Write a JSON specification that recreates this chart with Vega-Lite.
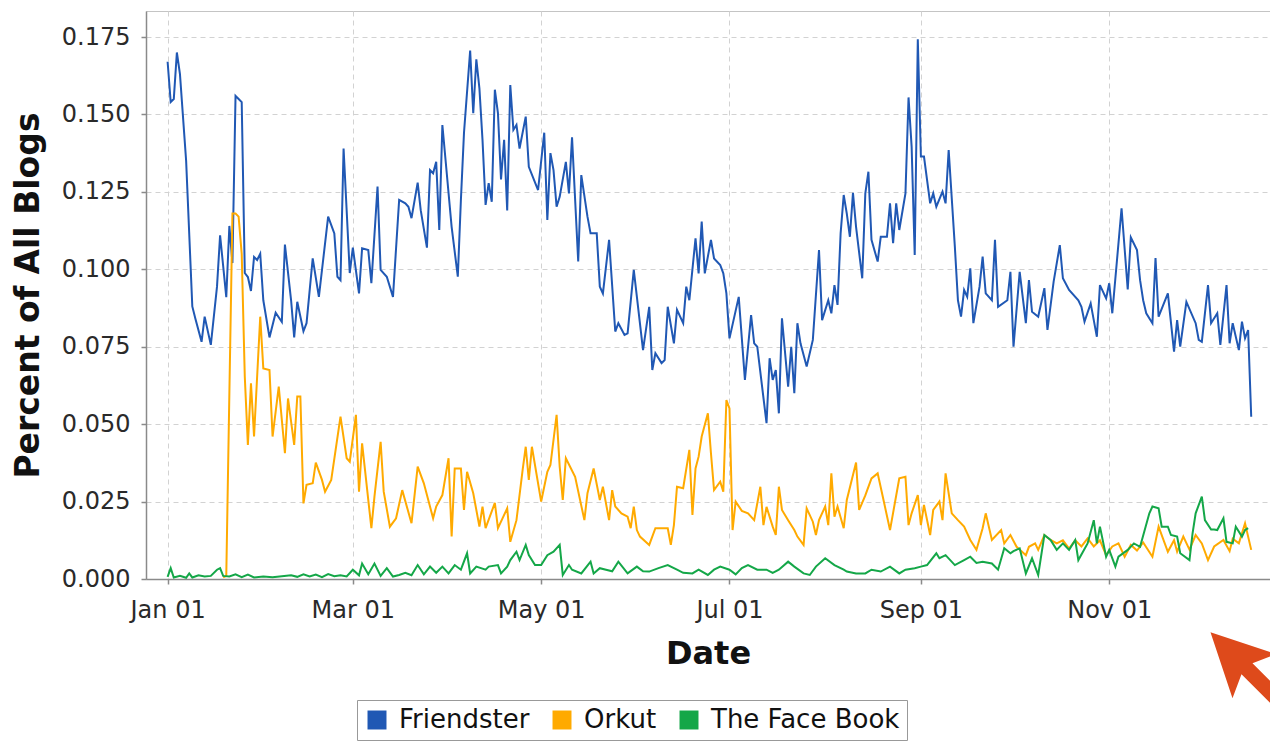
{
"$schema":"https://vega.github.io/schema/vega-lite/v6.json",
"width":1124,"height":568,
"autosize":{"type":"none"},
"padding":{"left":146,"top":11,"right":0,"bottom":164},
"background":"white",
"config":{"view":{"stroke":"#c4c4c4","strokeWidth":1},"font":"DejaVu Sans"},
"layer":[
{
"data":{"values":[
{"s":"Friendster","d":"2004-01-01","v":0.167},{"s":"Friendster","d":"2004-01-02","v":0.154},{"s":"Friendster","d":"2004-01-03","v":0.155},{"s":"Friendster","d":"2004-01-04","v":0.170},{"s":"Friendster","d":"2004-01-05","v":0.163},{"s":"Friendster","d":"2004-01-07","v":0.135},{"s":"Friendster","d":"2004-01-09","v":0.088},{"s":"Friendster","d":"2004-01-10","v":0.084},{"s":"Friendster","d":"2004-01-12","v":0.0766},{"s":"Friendster","d":"2004-01-13","v":0.0847},{"s":"Friendster","d":"2004-01-15","v":0.0756},{"s":"Friendster","d":"2004-01-17","v":0.0944},{"s":"Friendster","d":"2004-01-18","v":0.111},{"s":"Friendster","d":"2004-01-20","v":0.091},{"s":"Friendster","d":"2004-01-21","v":0.114},{"s":"Friendster","d":"2004-01-22","v":0.102},{"s":"Friendster","d":"2004-01-23","v":0.156},{"s":"Friendster","d":"2004-01-24","v":0.155},{"s":"Friendster","d":"2004-01-25","v":0.154},{"s":"Friendster","d":"2004-01-26","v":0.0988},{"s":"Friendster","d":"2004-01-27","v":0.0975},{"s":"Friendster","d":"2004-01-28","v":0.093},{"s":"Friendster","d":"2004-01-29","v":0.104},{"s":"Friendster","d":"2004-01-30","v":0.103},{"s":"Friendster","d":"2004-01-31","v":0.105},{"s":"Friendster","d":"2004-02-01","v":0.090},{"s":"Friendster","d":"2004-02-03","v":0.078},{"s":"Friendster","d":"2004-02-05","v":0.086},{"s":"Friendster","d":"2004-02-07","v":0.083},{"s":"Friendster","d":"2004-02-08","v":0.108},{"s":"Friendster","d":"2004-02-10","v":0.090},{"s":"Friendster","d":"2004-02-11","v":0.078},{"s":"Friendster","d":"2004-02-12","v":0.0895},{"s":"Friendster","d":"2004-02-14","v":0.080},{"s":"Friendster","d":"2004-02-15","v":0.0826},{"s":"Friendster","d":"2004-02-17","v":0.1035},{"s":"Friendster","d":"2004-02-19","v":0.0911},{"s":"Friendster","d":"2004-02-22","v":0.117},{"s":"Friendster","d":"2004-02-24","v":0.1116},{"s":"Friendster","d":"2004-02-25","v":0.0976},{"s":"Friendster","d":"2004-02-26","v":0.0965},{"s":"Friendster","d":"2004-02-27","v":0.139},{"s":"Friendster","d":"2004-02-29","v":0.0988},{"s":"Friendster","d":"2004-03-01","v":0.107},{"s":"Friendster","d":"2004-03-03","v":0.0922},{"s":"Friendster","d":"2004-03-04","v":0.1068},{"s":"Friendster","d":"2004-03-06","v":0.1062},{"s":"Friendster","d":"2004-03-07","v":0.0955},{"s":"Friendster","d":"2004-03-09","v":0.1267},{"s":"Friendster","d":"2004-03-10","v":0.0998},{"s":"Friendster","d":"2004-03-12","v":0.0976},{"s":"Friendster","d":"2004-03-14","v":0.0911},{"s":"Friendster","d":"2004-03-16","v":0.1224},{"s":"Friendster","d":"2004-03-18","v":0.1213},{"s":"Friendster","d":"2004-03-19","v":0.1202},{"s":"Friendster","d":"2004-03-20","v":0.1165},{"s":"Friendster","d":"2004-03-22","v":0.128},{"s":"Friendster","d":"2004-03-23","v":0.119},{"s":"Friendster","d":"2004-03-25","v":0.107},{"s":"Friendster","d":"2004-03-26","v":0.132},{"s":"Friendster","d":"2004-03-27","v":0.131},{"s":"Friendster","d":"2004-03-28","v":0.1347},{"s":"Friendster","d":"2004-03-29","v":0.1127},{"s":"Friendster","d":"2004-03-30","v":0.1466},{"s":"Friendster","d":"2004-04-02","v":0.1137},{"s":"Friendster","d":"2004-04-04","v":0.0976},{"s":"Friendster","d":"2004-04-05","v":0.1224},{"s":"Friendster","d":"2004-04-06","v":0.144},{"s":"Friendster","d":"2004-04-08","v":0.1706},{"s":"Friendster","d":"2004-04-09","v":0.1504},{"s":"Friendster","d":"2004-04-10","v":0.1678},{"s":"Friendster","d":"2004-04-11","v":0.1584},{"s":"Friendster","d":"2004-04-12","v":0.1418},{"s":"Friendster","d":"2004-04-13","v":0.1208},{"s":"Friendster","d":"2004-04-14","v":0.1278},{"s":"Friendster","d":"2004-04-15","v":0.1218},{"s":"Friendster","d":"2004-04-16","v":0.158},{"s":"Friendster","d":"2004-04-17","v":0.1504},{"s":"Friendster","d":"2004-04-18","v":0.129},{"s":"Friendster","d":"2004-04-19","v":0.1418},{"s":"Friendster","d":"2004-04-20","v":0.119},{"s":"Friendster","d":"2004-04-21","v":0.1595},{"s":"Friendster","d":"2004-04-22","v":0.145},{"s":"Friendster","d":"2004-04-23","v":0.1466},{"s":"Friendster","d":"2004-04-24","v":0.139},{"s":"Friendster","d":"2004-04-26","v":0.1493},{"s":"Friendster","d":"2004-04-27","v":0.1331},{"s":"Friendster","d":"2004-04-30","v":0.1256},{"s":"Friendster","d":"2004-05-02","v":0.1441},{"s":"Friendster","d":"2004-05-03","v":0.1159},{"s":"Friendster","d":"2004-05-04","v":0.1375},{"s":"Friendster","d":"2004-05-05","v":0.132},{"s":"Friendster","d":"2004-05-06","v":0.1202},{"s":"Friendster","d":"2004-05-07","v":0.1234},{"s":"Friendster","d":"2004-05-09","v":0.1347},{"s":"Friendster","d":"2004-05-10","v":0.1245},{"s":"Friendster","d":"2004-05-11","v":0.1426},{"s":"Friendster","d":"2004-05-13","v":0.1025},{"s":"Friendster","d":"2004-05-14","v":0.1304},{"s":"Friendster","d":"2004-05-16","v":0.117},{"s":"Friendster","d":"2004-05-17","v":0.1116},{"s":"Friendster","d":"2004-05-19","v":0.1116},{"s":"Friendster","d":"2004-05-20","v":0.0944},{"s":"Friendster","d":"2004-05-21","v":0.0922},{"s":"Friendster","d":"2004-05-23","v":0.1095},{"s":"Friendster","d":"2004-05-25","v":0.0799},{"s":"Friendster","d":"2004-05-26","v":0.0826},{"s":"Friendster","d":"2004-05-28","v":0.0788},{"s":"Friendster","d":"2004-05-29","v":0.0793},{"s":"Friendster","d":"2004-05-31","v":0.0998},{"s":"Friendster","d":"2004-06-03","v":0.0739},{"s":"Friendster","d":"2004-06-05","v":0.0879},{"s":"Friendster","d":"2004-06-06","v":0.0675},{"s":"Friendster","d":"2004-06-07","v":0.0729},{"s":"Friendster","d":"2004-06-09","v":0.0697},{"s":"Friendster","d":"2004-06-10","v":0.0707},{"s":"Friendster","d":"2004-06-11","v":0.0879},{"s":"Friendster","d":"2004-06-13","v":0.0761},{"s":"Friendster","d":"2004-06-14","v":0.0869},{"s":"Friendster","d":"2004-06-16","v":0.0826},{"s":"Friendster","d":"2004-06-17","v":0.0944},{"s":"Friendster","d":"2004-06-18","v":0.090},{"s":"Friendster","d":"2004-06-20","v":0.110},{"s":"Friendster","d":"2004-06-21","v":0.0987},{"s":"Friendster","d":"2004-06-22","v":0.1154},{"s":"Friendster","d":"2004-06-23","v":0.0987},{"s":"Friendster","d":"2004-06-25","v":0.1095},{"s":"Friendster","d":"2004-06-26","v":0.1035},{"s":"Friendster","d":"2004-06-28","v":0.1014},{"s":"Friendster","d":"2004-06-29","v":0.0987},{"s":"Friendster","d":"2004-06-30","v":0.0922},{"s":"Friendster","d":"2004-07-01","v":0.0777},{"s":"Friendster","d":"2004-07-04","v":0.0911},{"s":"Friendster","d":"2004-07-06","v":0.0643},{"s":"Friendster","d":"2004-07-08","v":0.0852},{"s":"Friendster","d":"2004-07-09","v":0.0761},{"s":"Friendster","d":"2004-07-10","v":0.075},{"s":"Friendster","d":"2004-07-13","v":0.0503},{"s":"Friendster","d":"2004-07-14","v":0.0713},{"s":"Friendster","d":"2004-07-15","v":0.0643},{"s":"Friendster","d":"2004-07-16","v":0.0675},{"s":"Friendster","d":"2004-07-17","v":0.0535},{"s":"Friendster","d":"2004-07-18","v":0.0842},{"s":"Friendster","d":"2004-07-20","v":0.0621},{"s":"Friendster","d":"2004-07-21","v":0.075},{"s":"Friendster","d":"2004-07-22","v":0.060},{"s":"Friendster","d":"2004-07-23","v":0.0826},{"s":"Friendster","d":"2004-07-24","v":0.0761},{"s":"Friendster","d":"2004-07-26","v":0.0686},{"s":"Friendster","d":"2004-07-28","v":0.0772},{"s":"Friendster","d":"2004-07-30","v":0.1062},{"s":"Friendster","d":"2004-07-31","v":0.0836},{"s":"Friendster","d":"2004-08-02","v":0.090},{"s":"Friendster","d":"2004-08-03","v":0.0858},{"s":"Friendster","d":"2004-08-04","v":0.0949},{"s":"Friendster","d":"2004-08-05","v":0.0885},{"s":"Friendster","d":"2004-08-06","v":0.1116},{"s":"Friendster","d":"2004-08-07","v":0.124},{"s":"Friendster","d":"2004-08-08","v":0.118},{"s":"Friendster","d":"2004-08-09","v":0.1105},{"s":"Friendster","d":"2004-08-10","v":0.1247},{"s":"Friendster","d":"2004-08-11","v":0.1137},{"s":"Friendster","d":"2004-08-13","v":0.0971},{"s":"Friendster","d":"2004-08-14","v":0.1245},{"s":"Friendster","d":"2004-08-15","v":0.1315},{"s":"Friendster","d":"2004-08-16","v":0.1095},{"s":"Friendster","d":"2004-08-18","v":0.1025},{"s":"Friendster","d":"2004-08-19","v":0.1105},{"s":"Friendster","d":"2004-08-21","v":0.1105},{"s":"Friendster","d":"2004-08-22","v":0.1213},{"s":"Friendster","d":"2004-08-23","v":0.1084},{"s":"Friendster","d":"2004-08-24","v":0.1213},{"s":"Friendster","d":"2004-08-25","v":0.1127},{"s":"Friendster","d":"2004-08-27","v":0.1245},{"s":"Friendster","d":"2004-08-28","v":0.1555},{"s":"Friendster","d":"2004-08-29","v":0.1396},{"s":"Friendster","d":"2004-08-30","v":0.1046},{"s":"Friendster","d":"2004-08-31","v":0.1743},{"s":"Friendster","d":"2004-09-01","v":0.1364},{"s":"Friendster","d":"2004-09-02","v":0.1364},{"s":"Friendster","d":"2004-09-04","v":0.1213},{"s":"Friendster","d":"2004-09-05","v":0.1245},{"s":"Friendster","d":"2004-09-06","v":0.1202},{"s":"Friendster","d":"2004-09-08","v":0.1251},{"s":"Friendster","d":"2004-09-09","v":0.1213},{"s":"Friendster","d":"2004-09-10","v":0.1385},{"s":"Friendster","d":"2004-09-12","v":0.1073},{"s":"Friendster","d":"2004-09-13","v":0.090},{"s":"Friendster","d":"2004-09-14","v":0.0847},{"s":"Friendster","d":"2004-09-15","v":0.0933},{"s":"Friendster","d":"2004-09-16","v":0.0911},{"s":"Friendster","d":"2004-09-17","v":0.1003},{"s":"Friendster","d":"2004-09-18","v":0.0826},{"s":"Friendster","d":"2004-09-20","v":0.0944},{"s":"Friendster","d":"2004-09-21","v":0.1041},{"s":"Friendster","d":"2004-09-22","v":0.0922},{"s":"Friendster","d":"2004-09-24","v":0.090},{"s":"Friendster","d":"2004-09-25","v":0.1095},{"s":"Friendster","d":"2004-09-26","v":0.0879},{"s":"Friendster","d":"2004-09-29","v":0.090},{"s":"Friendster","d":"2004-09-30","v":0.0992},{"s":"Friendster","d":"2004-10-01","v":0.075},{"s":"Friendster","d":"2004-10-03","v":0.0992},{"s":"Friendster","d":"2004-10-05","v":0.0826},{"s":"Friendster","d":"2004-10-06","v":0.0965},{"s":"Friendster","d":"2004-10-07","v":0.0863},{"s":"Friendster","d":"2004-10-09","v":0.0847},{"s":"Friendster","d":"2004-10-11","v":0.0939},{"s":"Friendster","d":"2004-10-12","v":0.0804},{"s":"Friendster","d":"2004-10-14","v":0.096},{"s":"Friendster","d":"2004-10-16","v":0.1078},{"s":"Friendster","d":"2004-10-17","v":0.0971},{"s":"Friendster","d":"2004-10-19","v":0.0933},{"s":"Friendster","d":"2004-10-22","v":0.090},{"s":"Friendster","d":"2004-10-23","v":0.0879},{"s":"Friendster","d":"2004-10-24","v":0.0831},{"s":"Friendster","d":"2004-10-26","v":0.089},{"s":"Friendster","d":"2004-10-28","v":0.0782},{"s":"Friendster","d":"2004-10-29","v":0.0949},{"s":"Friendster","d":"2004-10-31","v":0.0906},{"s":"Friendster","d":"2004-11-01","v":0.0955},{"s":"Friendster","d":"2004-11-02","v":0.0858},{"s":"Friendster","d":"2004-11-05","v":0.1197},{"s":"Friendster","d":"2004-11-07","v":0.0935},{"s":"Friendster","d":"2004-11-08","v":0.1103},{"s":"Friendster","d":"2004-11-10","v":0.1062},{"s":"Friendster","d":"2004-11-11","v":0.0965},{"s":"Friendster","d":"2004-11-12","v":0.090},{"s":"Friendster","d":"2004-11-13","v":0.0858},{"s":"Friendster","d":"2004-11-15","v":0.0826},{"s":"Friendster","d":"2004-11-16","v":0.1036},{"s":"Friendster","d":"2004-11-17","v":0.0847},{"s":"Friendster","d":"2004-11-20","v":0.0922},{"s":"Friendster","d":"2004-11-22","v":0.0734},{"s":"Friendster","d":"2004-11-23","v":0.0836},{"s":"Friendster","d":"2004-11-24","v":0.075},{"s":"Friendster","d":"2004-11-26","v":0.0895},{"s":"Friendster","d":"2004-11-29","v":0.0826},{"s":"Friendster","d":"2004-11-30","v":0.0772},{"s":"Friendster","d":"2004-12-01","v":0.0766},{"s":"Friendster","d":"2004-12-03","v":0.0949},{"s":"Friendster","d":"2004-12-04","v":0.0826},{"s":"Friendster","d":"2004-12-06","v":0.0858},{"s":"Friendster","d":"2004-12-07","v":0.0756},{"s":"Friendster","d":"2004-12-09","v":0.0949},{"s":"Friendster","d":"2004-12-10","v":0.0761},{"s":"Friendster","d":"2004-12-11","v":0.0826},{"s":"Friendster","d":"2004-12-13","v":0.0739},{"s":"Friendster","d":"2004-12-14","v":0.0831},{"s":"Friendster","d":"2004-12-15","v":0.0777},{"s":"Friendster","d":"2004-12-16","v":0.0804},{"s":"Friendster","d":"2004-12-17","v":0.0524},
{"s":"Orkut","d":"2004-01-19","v":0.0005},{"s":"Orkut","d":"2004-01-20","v":0.001},{"s":"Orkut","d":"2004-01-22","v":0.118},{"s":"Orkut","d":"2004-01-23","v":0.118},{"s":"Orkut","d":"2004-01-24","v":0.117},{"s":"Orkut","d":"2004-01-25","v":0.105},{"s":"Orkut","d":"2004-01-26","v":0.0653},{"s":"Orkut","d":"2004-01-27","v":0.0433},{"s":"Orkut","d":"2004-01-28","v":0.0632},{"s":"Orkut","d":"2004-01-29","v":0.046},{"s":"Orkut","d":"2004-01-31","v":0.0847},{"s":"Orkut","d":"2004-02-01","v":0.068},{"s":"Orkut","d":"2004-02-03","v":0.0675},{"s":"Orkut","d":"2004-02-04","v":0.046},{"s":"Orkut","d":"2004-02-06","v":0.0621},{"s":"Orkut","d":"2004-02-08","v":0.0406},{"s":"Orkut","d":"2004-02-09","v":0.0583},{"s":"Orkut","d":"2004-02-11","v":0.0433},{"s":"Orkut","d":"2004-02-12","v":0.0589},{"s":"Orkut","d":"2004-02-13","v":0.0589},{"s":"Orkut","d":"2004-02-14","v":0.0244},{"s":"Orkut","d":"2004-02-15","v":0.0304},{"s":"Orkut","d":"2004-02-17","v":0.0309},{"s":"Orkut","d":"2004-02-18","v":0.0376},{"s":"Orkut","d":"2004-02-20","v":0.032},{"s":"Orkut","d":"2004-02-21","v":0.0282},{"s":"Orkut","d":"2004-02-23","v":0.032},{"s":"Orkut","d":"2004-02-26","v":0.0524},{"s":"Orkut","d":"2004-02-28","v":0.039},{"s":"Orkut","d":"2004-02-29","v":0.0379},{"s":"Orkut","d":"2004-03-02","v":0.053},{"s":"Orkut","d":"2004-03-03","v":0.0282},{"s":"Orkut","d":"2004-03-04","v":0.0438},{"s":"Orkut","d":"2004-03-07","v":0.0164},{"s":"Orkut","d":"2004-03-08","v":0.0266},{"s":"Orkut","d":"2004-03-10","v":0.0443},{"s":"Orkut","d":"2004-03-11","v":0.0282},{"s":"Orkut","d":"2004-03-13","v":0.0169},{"s":"Orkut","d":"2004-03-15","v":0.0196},{"s":"Orkut","d":"2004-03-17","v":0.0287},{"s":"Orkut","d":"2004-03-20","v":0.018},{"s":"Orkut","d":"2004-03-22","v":0.0363},{"s":"Orkut","d":"2004-03-24","v":0.0309},{"s":"Orkut","d":"2004-03-27","v":0.0196},{"s":"Orkut","d":"2004-03-28","v":0.0234},{"s":"Orkut","d":"2004-03-30","v":0.0271},{"s":"Orkut","d":"2004-04-01","v":0.039},{"s":"Orkut","d":"2004-04-02","v":0.0137},{"s":"Orkut","d":"2004-04-03","v":0.0357},{"s":"Orkut","d":"2004-04-05","v":0.0357},{"s":"Orkut","d":"2004-04-06","v":0.0223},{"s":"Orkut","d":"2004-04-07","v":0.0346},{"s":"Orkut","d":"2004-04-09","v":0.0277},{"s":"Orkut","d":"2004-04-11","v":0.0169},{"s":"Orkut","d":"2004-04-12","v":0.0234},{"s":"Orkut","d":"2004-04-13","v":0.0164},{"s":"Orkut","d":"2004-04-16","v":0.0246},{"s":"Orkut","d":"2004-04-17","v":0.0164},{"s":"Orkut","d":"2004-04-20","v":0.0228},{"s":"Orkut","d":"2004-04-21","v":0.012},{"s":"Orkut","d":"2004-04-23","v":0.019},{"s":"Orkut","d":"2004-04-25","v":0.0352},{"s":"Orkut","d":"2004-04-26","v":0.0427},{"s":"Orkut","d":"2004-04-27","v":0.032},{"s":"Orkut","d":"2004-04-28","v":0.0427},{"s":"Orkut","d":"2004-05-01","v":0.025},{"s":"Orkut","d":"2004-05-03","v":0.0346},{"s":"Orkut","d":"2004-05-04","v":0.0368},{"s":"Orkut","d":"2004-05-06","v":0.053},{"s":"Orkut","d":"2004-05-07","v":0.0363},{"s":"Orkut","d":"2004-05-08","v":0.0255},{"s":"Orkut","d":"2004-05-09","v":0.039},{"s":"Orkut","d":"2004-05-12","v":0.033},{"s":"Orkut","d":"2004-05-15","v":0.019},{"s":"Orkut","d":"2004-05-16","v":0.0277},{"s":"Orkut","d":"2004-05-18","v":0.0357},{"s":"Orkut","d":"2004-05-20","v":0.0255},{"s":"Orkut","d":"2004-05-21","v":0.0298},{"s":"Orkut","d":"2004-05-23","v":0.019},{"s":"Orkut","d":"2004-05-24","v":0.0287},{"s":"Orkut","d":"2004-05-25","v":0.0234},{"s":"Orkut","d":"2004-05-27","v":0.0212},{"s":"Orkut","d":"2004-05-29","v":0.0201},{"s":"Orkut","d":"2004-05-30","v":0.0164},{"s":"Orkut","d":"2004-05-31","v":0.0234},{"s":"Orkut","d":"2004-06-01","v":0.0158},{"s":"Orkut","d":"2004-06-02","v":0.0137},{"s":"Orkut","d":"2004-06-05","v":0.011},{"s":"Orkut","d":"2004-06-07","v":0.0164},{"s":"Orkut","d":"2004-06-11","v":0.0164},{"s":"Orkut","d":"2004-06-12","v":0.011},{"s":"Orkut","d":"2004-06-13","v":0.0174},{"s":"Orkut","d":"2004-06-14","v":0.0298},{"s":"Orkut","d":"2004-06-16","v":0.0293},{"s":"Orkut","d":"2004-06-18","v":0.0417},{"s":"Orkut","d":"2004-06-19","v":0.0207},{"s":"Orkut","d":"2004-06-20","v":0.0357},{"s":"Orkut","d":"2004-06-21","v":0.0395},{"s":"Orkut","d":"2004-06-22","v":0.046},{"s":"Orkut","d":"2004-06-24","v":0.0535},{"s":"Orkut","d":"2004-06-25","v":0.0406},{"s":"Orkut","d":"2004-06-26","v":0.0287},{"s":"Orkut","d":"2004-06-28","v":0.0314},{"s":"Orkut","d":"2004-06-29","v":0.0282},{"s":"Orkut","d":"2004-06-30","v":0.0578},{"s":"Orkut","d":"2004-07-01","v":0.0551},{"s":"Orkut","d":"2004-07-02","v":0.0158},{"s":"Orkut","d":"2004-07-03","v":0.025},{"s":"Orkut","d":"2004-07-05","v":0.022},{"s":"Orkut","d":"2004-07-07","v":0.0212},{"s":"Orkut","d":"2004-07-09","v":0.019},{"s":"Orkut","d":"2004-07-11","v":0.0298},{"s":"Orkut","d":"2004-07-12","v":0.0174},{"s":"Orkut","d":"2004-07-13","v":0.0233},{"s":"Orkut","d":"2004-07-15","v":0.0169},{"s":"Orkut","d":"2004-07-16","v":0.0142},{"s":"Orkut","d":"2004-07-17","v":0.0298},{"s":"Orkut","d":"2004-07-18","v":0.0223},{"s":"Orkut","d":"2004-07-20","v":0.019},{"s":"Orkut","d":"2004-07-22","v":0.0158},{"s":"Orkut","d":"2004-07-23","v":0.0137},{"s":"Orkut","d":"2004-07-25","v":0.011},{"s":"Orkut","d":"2004-07-26","v":0.0228},{"s":"Orkut","d":"2004-07-28","v":0.0185},{"s":"Orkut","d":"2004-07-29","v":0.0142},{"s":"Orkut","d":"2004-07-30","v":0.019},{"s":"Orkut","d":"2004-08-01","v":0.0234},{"s":"Orkut","d":"2004-08-02","v":0.0174},{"s":"Orkut","d":"2004-08-03","v":0.0341},{"s":"Orkut","d":"2004-08-04","v":0.0201},{"s":"Orkut","d":"2004-08-05","v":0.0234},{"s":"Orkut","d":"2004-08-07","v":0.0164},{"s":"Orkut","d":"2004-08-08","v":0.0255},{"s":"Orkut","d":"2004-08-11","v":0.0376},{"s":"Orkut","d":"2004-08-12","v":0.0223},{"s":"Orkut","d":"2004-08-14","v":0.027},{"s":"Orkut","d":"2004-08-16","v":0.0325},{"s":"Orkut","d":"2004-08-18","v":0.0341},{"s":"Orkut","d":"2004-08-20","v":0.025},{"s":"Orkut","d":"2004-08-22","v":0.0158},{"s":"Orkut","d":"2004-08-25","v":0.0325},{"s":"Orkut","d":"2004-08-27","v":0.033},{"s":"Orkut","d":"2004-08-28","v":0.0174},{"s":"Orkut","d":"2004-08-29","v":0.0212},{"s":"Orkut","d":"2004-08-31","v":0.0271},{"s":"Orkut","d":"2004-09-01","v":0.0174},{"s":"Orkut","d":"2004-09-02","v":0.0239},{"s":"Orkut","d":"2004-09-04","v":0.0142},{"s":"Orkut","d":"2004-09-05","v":0.0223},{"s":"Orkut","d":"2004-09-07","v":0.025},{"s":"Orkut","d":"2004-09-08","v":0.019},{"s":"Orkut","d":"2004-09-09","v":0.0341},{"s":"Orkut","d":"2004-09-11","v":0.0212},{"s":"Orkut","d":"2004-09-13","v":0.019},{"s":"Orkut","d":"2004-09-15","v":0.0169},{"s":"Orkut","d":"2004-09-17","v":0.0126},{"s":"Orkut","d":"2004-09-19","v":0.0094},{"s":"Orkut","d":"2004-09-21","v":0.0164},{"s":"Orkut","d":"2004-09-22","v":0.0212},{"s":"Orkut","d":"2004-09-24","v":0.0126},{"s":"Orkut","d":"2004-09-27","v":0.0158},{"s":"Orkut","d":"2004-09-28","v":0.0115},{"s":"Orkut","d":"2004-09-30","v":0.0142},{"s":"Orkut","d":"2004-10-02","v":0.0104},{"s":"Orkut","d":"2004-10-05","v":0.0077},{"s":"Orkut","d":"2004-10-06","v":0.0104},{"s":"Orkut","d":"2004-10-08","v":0.0115},{"s":"Orkut","d":"2004-10-09","v":0.0094},{"s":"Orkut","d":"2004-10-11","v":0.0142},{"s":"Orkut","d":"2004-10-13","v":0.0126},{"s":"Orkut","d":"2004-10-15","v":0.0115},{"s":"Orkut","d":"2004-10-17","v":0.0125},{"s":"Orkut","d":"2004-10-19","v":0.0098},{"s":"Orkut","d":"2004-10-21","v":0.0125},{"s":"Orkut","d":"2004-10-23","v":0.0105},{"s":"Orkut","d":"2004-10-25","v":0.0131},{"s":"Orkut","d":"2004-10-27","v":0.0105},{"s":"Orkut","d":"2004-10-29","v":0.0125},{"s":"Orkut","d":"2004-10-31","v":0.0077},{"s":"Orkut","d":"2004-11-02","v":0.0105},{"s":"Orkut","d":"2004-11-04","v":0.0115},{"s":"Orkut","d":"2004-11-06","v":0.0072},{"s":"Orkut","d":"2004-11-08","v":0.011},{"s":"Orkut","d":"2004-11-10","v":0.0092},{"s":"Orkut","d":"2004-11-12","v":0.0118},{"s":"Orkut","d":"2004-11-15","v":0.0072},{"s":"Orkut","d":"2004-11-17","v":0.0169},{"s":"Orkut","d":"2004-11-20","v":0.0088},{"s":"Orkut","d":"2004-11-22","v":0.0125},{"s":"Orkut","d":"2004-11-23","v":0.0088},{"s":"Orkut","d":"2004-11-25","v":0.0137},{"s":"Orkut","d":"2004-11-27","v":0.0095},{"s":"Orkut","d":"2004-11-29","v":0.0142},{"s":"Orkut","d":"2004-12-01","v":0.0115},{"s":"Orkut","d":"2004-12-03","v":0.0061},{"s":"Orkut","d":"2004-12-05","v":0.0105},{"s":"Orkut","d":"2004-12-08","v":0.0126},{"s":"Orkut","d":"2004-12-10","v":0.009},{"s":"Orkut","d":"2004-12-11","v":0.013},{"s":"Orkut","d":"2004-12-13","v":0.0115},{"s":"Orkut","d":"2004-12-15","v":0.018},{"s":"Orkut","d":"2004-12-17","v":0.0094},
{"s":"The Face Book","d":"2004-01-01","v":0.0007},{"s":"The Face Book","d":"2004-01-02","v":0.0035},{"s":"The Face Book","d":"2004-01-03","v":0.0005},{"s":"The Face Book","d":"2004-01-05","v":0.001},{"s":"The Face Book","d":"2004-01-07","v":0.0004},{"s":"The Face Book","d":"2004-01-08","v":0.0018},{"s":"The Face Book","d":"2004-01-09","v":0.0005},{"s":"The Face Book","d":"2004-01-11","v":0.0012},{"s":"The Face Book","d":"2004-01-13","v":0.0008},{"s":"The Face Book","d":"2004-01-15","v":0.001},{"s":"The Face Book","d":"2004-01-17","v":0.003},{"s":"The Face Book","d":"2004-01-18","v":0.0035},{"s":"The Face Book","d":"2004-01-19","v":0.001},{"s":"The Face Book","d":"2004-01-21","v":0.0008},{"s":"The Face Book","d":"2004-01-23","v":0.0015},{"s":"The Face Book","d":"2004-01-25","v":0.0006},{"s":"The Face Book","d":"2004-01-27","v":0.0014},{"s":"The Face Book","d":"2004-01-29","v":0.0005},{"s":"The Face Book","d":"2004-02-01","v":0.0008},{"s":"The Face Book","d":"2004-02-04","v":0.0006},{"s":"The Face Book","d":"2004-02-07","v":0.0009},{"s":"The Face Book","d":"2004-02-10","v":0.0012},{"s":"The Face Book","d":"2004-02-12","v":0.0007},{"s":"The Face Book","d":"2004-02-14","v":0.0015},{"s":"The Face Book","d":"2004-02-16","v":0.0008},{"s":"The Face Book","d":"2004-02-18","v":0.0014},{"s":"The Face Book","d":"2004-02-20","v":0.0006},{"s":"The Face Book","d":"2004-02-22","v":0.0016},{"s":"The Face Book","d":"2004-02-24","v":0.0009},{"s":"The Face Book","d":"2004-02-26","v":0.0012},{"s":"The Face Book","d":"2004-02-28","v":0.0008},{"s":"The Face Book","d":"2004-03-01","v":0.003},{"s":"The Face Book","d":"2004-03-03","v":0.0012},{"s":"The Face Book","d":"2004-03-04","v":0.005},{"s":"The Face Book","d":"2004-03-06","v":0.0015},{"s":"The Face Book","d":"2004-03-08","v":0.005},{"s":"The Face Book","d":"2004-03-10","v":0.001},{"s":"The Face Book","d":"2004-03-12","v":0.0035},{"s":"The Face Book","d":"2004-03-14","v":0.0008},{"s":"The Face Book","d":"2004-03-16","v":0.0013},{"s":"The Face Book","d":"2004-03-18","v":0.002},{"s":"The Face Book","d":"2004-03-20","v":0.0012},{"s":"The Face Book","d":"2004-03-22","v":0.0045},{"s":"The Face Book","d":"2004-03-24","v":0.0015},{"s":"The Face Book","d":"2004-03-26","v":0.004},{"s":"The Face Book","d":"2004-03-28","v":0.002},{"s":"The Face Book","d":"2004-03-30","v":0.004},{"s":"The Face Book","d":"2004-04-01","v":0.0018},{"s":"The Face Book","d":"2004-04-03","v":0.0045},{"s":"The Face Book","d":"2004-04-05","v":0.003},{"s":"The Face Book","d":"2004-04-07","v":0.0083},{"s":"The Face Book","d":"2004-04-08","v":0.0018},{"s":"The Face Book","d":"2004-04-10","v":0.004},{"s":"The Face Book","d":"2004-04-13","v":0.003},{"s":"The Face Book","d":"2004-04-14","v":0.004},{"s":"The Face Book","d":"2004-04-17","v":0.0045},{"s":"The Face Book","d":"2004-04-18","v":0.0018},{"s":"The Face Book","d":"2004-04-20","v":0.004},{"s":"The Face Book","d":"2004-04-21","v":0.0061},{"s":"The Face Book","d":"2004-04-23","v":0.0088},{"s":"The Face Book","d":"2004-04-24","v":0.0061},{"s":"The Face Book","d":"2004-04-26","v":0.011},{"s":"The Face Book","d":"2004-04-27","v":0.0077},{"s":"The Face Book","d":"2004-04-29","v":0.0045},{"s":"The Face Book","d":"2004-05-01","v":0.0045},{"s":"The Face Book","d":"2004-05-03","v":0.0077},{"s":"The Face Book","d":"2004-05-05","v":0.0088},{"s":"The Face Book","d":"2004-05-07","v":0.011},{"s":"The Face Book","d":"2004-05-08","v":0.0013},{"s":"The Face Book","d":"2004-05-10","v":0.0045},{"s":"The Face Book","d":"2004-05-11","v":0.003},{"s":"The Face Book","d":"2004-05-14","v":0.0018},{"s":"The Face Book","d":"2004-05-17","v":0.0056},{"s":"The Face Book","d":"2004-05-18","v":0.0018},{"s":"The Face Book","d":"2004-05-20","v":0.0035},{"s":"The Face Book","d":"2004-05-22","v":0.003},{"s":"The Face Book","d":"2004-05-24","v":0.0025},{"s":"The Face Book","d":"2004-05-26","v":0.0056},{"s":"The Face Book","d":"2004-05-29","v":0.0018},{"s":"The Face Book","d":"2004-06-01","v":0.004},{"s":"The Face Book","d":"2004-06-03","v":0.0025},{"s":"The Face Book","d":"2004-06-05","v":0.0024},{"s":"The Face Book","d":"2004-06-08","v":0.0035},{"s":"The Face Book","d":"2004-06-11","v":0.0045},{"s":"The Face Book","d":"2004-06-14","v":0.003},{"s":"The Face Book","d":"2004-06-16","v":0.002},{"s":"The Face Book","d":"2004-06-19","v":0.0018},{"s":"The Face Book","d":"2004-06-21","v":0.003},{"s":"The Face Book","d":"2004-06-24","v":0.0013},{"s":"The Face Book","d":"2004-06-26","v":0.003},{"s":"The Face Book","d":"2004-06-28","v":0.004},{"s":"The Face Book","d":"2004-07-01","v":0.003},{"s":"The Face Book","d":"2004-07-03","v":0.0015},{"s":"The Face Book","d":"2004-07-05","v":0.0035},{"s":"The Face Book","d":"2004-07-07","v":0.0045},{"s":"The Face Book","d":"2004-07-10","v":0.003},{"s":"The Face Book","d":"2004-07-13","v":0.003},{"s":"The Face Book","d":"2004-07-15","v":0.002},{"s":"The Face Book","d":"2004-07-17","v":0.003},{"s":"The Face Book","d":"2004-07-20","v":0.0056},{"s":"The Face Book","d":"2004-07-22","v":0.004},{"s":"The Face Book","d":"2004-07-25","v":0.0018},{"s":"The Face Book","d":"2004-07-27","v":0.0013},{"s":"The Face Book","d":"2004-07-29","v":0.004},{"s":"The Face Book","d":"2004-08-01","v":0.0067},{"s":"The Face Book","d":"2004-08-04","v":0.0045},{"s":"The Face Book","d":"2004-08-07","v":0.003},{"s":"The Face Book","d":"2004-08-08","v":0.0024},{"s":"The Face Book","d":"2004-08-11","v":0.0018},{"s":"The Face Book","d":"2004-08-14","v":0.0018},{"s":"The Face Book","d":"2004-08-16","v":0.003},{"s":"The Face Book","d":"2004-08-19","v":0.0024},{"s":"The Face Book","d":"2004-08-22","v":0.004},{"s":"The Face Book","d":"2004-08-25","v":0.0018},{"s":"The Face Book","d":"2004-08-27","v":0.003},{"s":"The Face Book","d":"2004-08-30","v":0.0035},{"s":"The Face Book","d":"2004-09-01","v":0.004},{"s":"The Face Book","d":"2004-09-03","v":0.0045},{"s":"The Face Book","d":"2004-09-06","v":0.0083},{"s":"The Face Book","d":"2004-09-07","v":0.0067},{"s":"The Face Book","d":"2004-09-09","v":0.0077},{"s":"The Face Book","d":"2004-09-12","v":0.0045},{"s":"The Face Book","d":"2004-09-15","v":0.0061},{"s":"The Face Book","d":"2004-09-17","v":0.0072},{"s":"The Face Book","d":"2004-09-19","v":0.0052},{"s":"The Face Book","d":"2004-09-21","v":0.0056},{"s":"The Face Book","d":"2004-09-24","v":0.005},{"s":"The Face Book","d":"2004-09-26","v":0.003},{"s":"The Face Book","d":"2004-09-28","v":0.0099},{"s":"The Face Book","d":"2004-09-30","v":0.0083},{"s":"The Face Book","d":"2004-10-01","v":0.009},{"s":"The Face Book","d":"2004-10-03","v":0.0099},{"s":"The Face Book","d":"2004-10-05","v":0.0018},{"s":"The Face Book","d":"2004-10-07","v":0.0067},{"s":"The Face Book","d":"2004-10-09","v":0.0013},{"s":"The Face Book","d":"2004-10-11","v":0.0142},{"s":"The Face Book","d":"2004-10-13","v":0.0126},{"s":"The Face Book","d":"2004-10-15","v":0.0094},{"s":"The Face Book","d":"2004-10-17","v":0.0115},{"s":"The Face Book","d":"2004-10-19","v":0.0094},{"s":"The Face Book","d":"2004-10-21","v":0.0126},{"s":"The Face Book","d":"2004-10-22","v":0.0061},{"s":"The Face Book","d":"2004-10-25","v":0.0115},{"s":"The Face Book","d":"2004-10-27","v":0.019},{"s":"The Face Book","d":"2004-10-28","v":0.0115},{"s":"The Face Book","d":"2004-10-29","v":0.0169},{"s":"The Face Book","d":"2004-10-31","v":0.0072},{"s":"The Face Book","d":"2004-11-01","v":0.0094},{"s":"The Face Book","d":"2004-11-03","v":0.004},{"s":"The Face Book","d":"2004-11-04","v":0.0072},{"s":"The Face Book","d":"2004-11-07","v":0.0094},{"s":"The Face Book","d":"2004-11-09","v":0.0115},{"s":"The Face Book","d":"2004-11-11","v":0.0104},{"s":"The Face Book","d":"2004-11-14","v":0.0212},{"s":"The Face Book","d":"2004-11-15","v":0.0234},{"s":"The Face Book","d":"2004-11-17","v":0.0228},{"s":"The Face Book","d":"2004-11-18","v":0.0169},{"s":"The Face Book","d":"2004-11-20","v":0.0169},{"s":"The Face Book","d":"2004-11-21","v":0.0142},{"s":"The Face Book","d":"2004-11-23","v":0.0137},{"s":"The Face Book","d":"2004-11-24","v":0.0083},{"s":"The Face Book","d":"2004-11-27","v":0.0061},{"s":"The Face Book","d":"2004-11-28","v":0.0147},{"s":"The Face Book","d":"2004-11-29","v":0.0212},{"s":"The Face Book","d":"2004-12-01","v":0.0266},{"s":"The Face Book","d":"2004-12-02","v":0.019},{"s":"The Face Book","d":"2004-12-04","v":0.016},{"s":"The Face Book","d":"2004-12-05","v":0.016},{"s":"The Face Book","d":"2004-12-06","v":0.0158},{"s":"The Face Book","d":"2004-12-08","v":0.0196},{"s":"The Face Book","d":"2004-12-09","v":0.012},{"s":"The Face Book","d":"2004-12-11","v":0.0115},{"s":"The Face Book","d":"2004-12-12","v":0.0169},{"s":"The Face Book","d":"2004-12-14","v":0.0137},{"s":"The Face Book","d":"2004-12-15","v":0.0158},{"s":"The Face Book","d":"2004-12-16","v":0.0164}
]},
"mark":{"type":"line","strokeWidth":2,"clip":true},
"encoding":{
"x":{"field":"d","type":"temporal",
"scale":{"type":"utc","domain":[{"year":2003,"month":12,"date":25,"utc":true},{"year":2004,"month":12,"date":23,"hours":2,"utc":true}]},
"axis":{"title":"Date","values":[{"year":2004,"month":1,"date":1,"utc":true},{"year":2004,"month":3,"date":1,"utc":true},{"year":2004,"month":5,"date":1,"utc":true},{"year":2004,"month":7,"date":1,"utc":true},{"year":2004,"month":9,"date":1,"utc":true},{"year":2004,"month":11,"date":1,"utc":true}],
"labelExpr":"utcFormat(datum.value, '%b %d')","grid":true,"gridDash":[5,4],"gridColor":"#d2d2d2","gridWidth":1,
"domainColor":"#8a8a8a","domainWidth":1.5,"tickColor":"#8a8a8a","tickSize":5,"tickWidth":1.5,
"labelFont":"DejaVu Sans","labelFontSize":24,"labelColor":"#2a2a2a","labelPadding":14,"labelFlush":false,
"titleFont":"DejaVu Sans","titleFontSize":32,"titleFontWeight":"bold","titleColor":"#111111","titlePadding":16}},
"y":{"field":"v","type":"quantitative",
"scale":{"domain":[0,0.1834],"nice":false,"zero":true},
"axis":{"title":"Percent of All Blogs","values":[0,0.025,0.05,0.075,0.1,0.125,0.15,0.175],"format":".3f",
"grid":true,"gridDash":[5,4],"gridColor":"#d2d2d2","gridWidth":1,
"domainColor":"#8a8a8a","domainWidth":1.5,"tickColor":"#8a8a8a","tickSize":5,"tickWidth":1.5,
"labelFont":"DejaVu Sans","labelFontSize":24,"labelColor":"#2a2a2a","labelPadding":11,
"titleFont":"DejaVu Sans","titleFontSize":33,"titleFontWeight":"bold","titleColor":"#111111","titlePadding":16}},
"color":{"field":"s","type":"nominal",
"scale":{"domain":["Friendster","Orkut","The Face Book"],"range":["#2058b4","#ffaa00","#14a748"]},
"legend":{"title":null,"orient":"none","legendX":211,"legendY":689,"direction":"horizontal",
"symbolType":"square","symbolSize":360,"symbolStrokeWidth":0,
"labelFont":"DejaVu Sans","labelFontSize":26,"labelColor":"#111111","labelOffset":9,"columnPadding":19,"labelLimit":0,
"strokeColor":"#999999","padding":7,
"encode":{"symbols":{"update":{"fill":{"scale":"color","field":"value"},"fillOpacity":{"value":1}}}}}}
}
},
{
"data":{"values":[{}]},
"mark":{"type":"point","shape":"M-1,-1L0.32,-0.56L-0.16,-0.38L1,0.78L0.78,1L-0.38,-0.16L-0.56,0.32Z","filled":true,"size":10000,"color":"#de4a1b","opacity":1,"strokeWidth":0,"clip":false},
"encoding":{
"x":{"datum":{"year":2004,"month":12,"date":20,"utc":true},"type":"temporal"},
"y":{"datum":-0.0333,"type":"quantitative"}
}
}
]
}
